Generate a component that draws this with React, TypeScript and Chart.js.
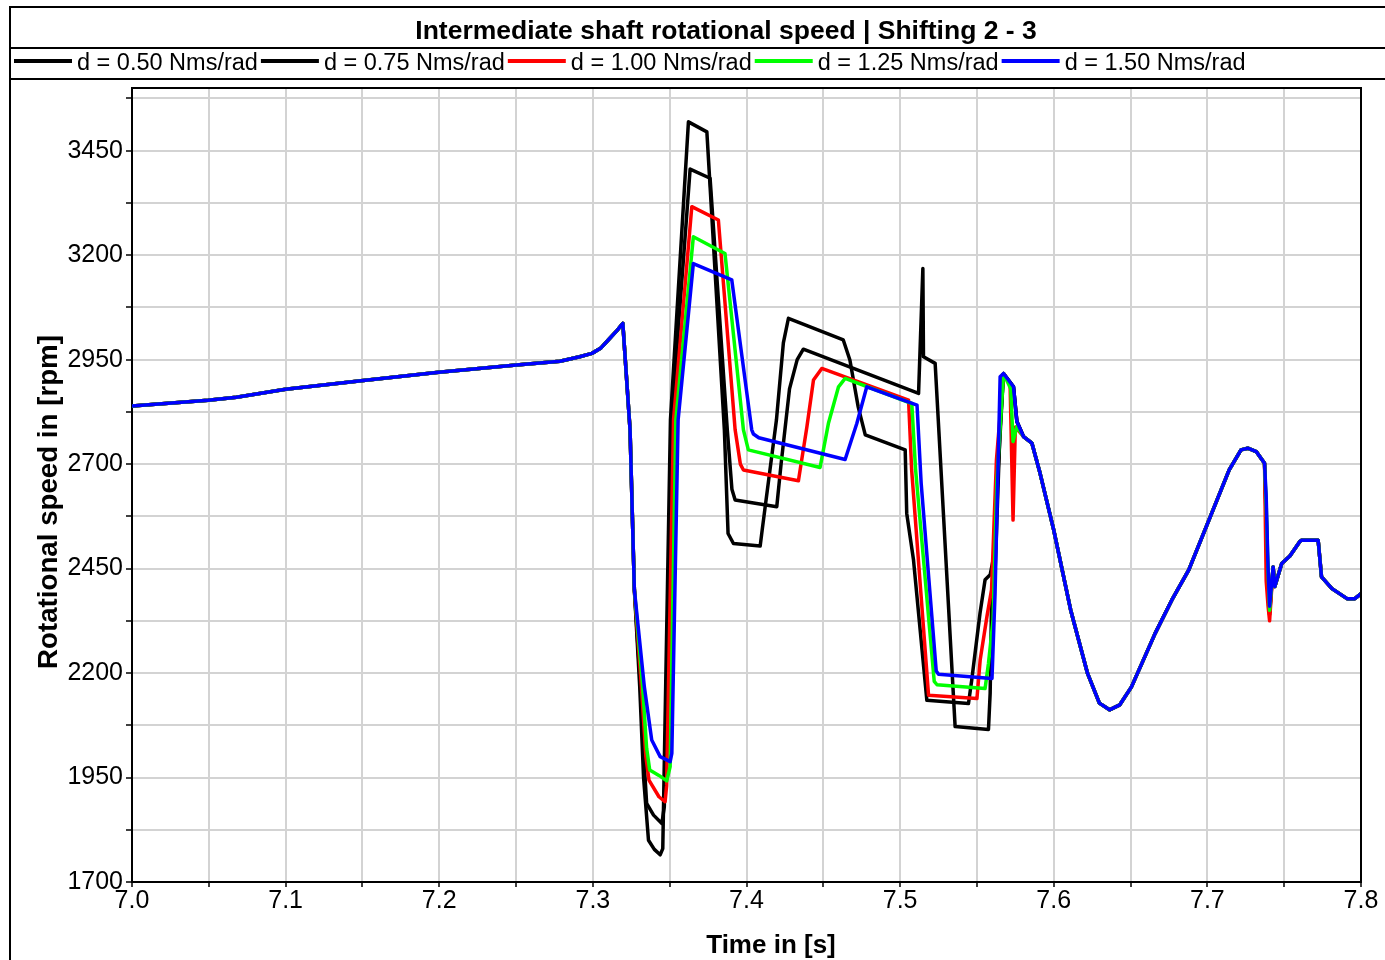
import React, { useEffect, useRef } from 'react';
import { Chart, registerables } from 'chart.js';

Chart.register(...registerables);

const TITLE = 'Intermediate shaft rotational speed | Shifting 2 - 3';
const X_TITLE = 'Time in [s]';
const Y_TITLE = 'Rotational speed in [rpm]';

const seriesLabels = ['d = 0.50 Nms/rad', 'd = 0.75 Nms/rad', 'd = 1.00 Nms/rad', 'd = 1.25 Nms/rad', 'd = 1.50 Nms/rad'];
const seriesColors = ['#000000', '#000000', '#ff0000', '#00ff00', '#0000ff'];

const xMajorTicks = [7.0, 7.1, 7.2, 7.3, 7.4, 7.5, 7.6, 7.7, 7.8];
const xMinorTicks = [7.05, 7.15, 7.25, 7.35, 7.45, 7.55, 7.65, 7.75];
const yMajorTicks = [1700, 1950, 2200, 2450, 2700, 2950, 3200, 3450];
const yMinorTicks = [1825, 2075, 2325, 2575, 2825, 3075, 3325, 3575];

// common start (all damping values identical)
const startT = [7.0, 7.0496, 7.068, 7.1, 7.1506, 7.1997, 7.2502, 7.2786, 7.2914, 7.2994, 7.305, 7.31, 7.3158, 7.3195, 7.3242, 7.327];
const startV = [2839, 2853, 2860, 2879, 2900, 2920, 2937, 2946, 2957, 2965, 2977, 2997, 3020, 3037, 2782, 2400];

// d = 0.50
const d050T = [7.3305, 7.333, 7.3362, 7.34, 7.3438, 7.3455, 7.3505, 7.3622, 7.3742, 7.3856, 7.388, 7.3915, 7.4089, 7.4102, 7.4195, 7.424, 7.4273, 7.463, 7.4673, 7.4727, 7.4773, 7.5033, 7.5043, 7.5087, 7.5174, 7.5445, 7.5466, 7.552, 7.5553, 7.5586, 7.561, 7.564];
const d050V = [2167, 1950, 1800, 1778, 1765, 1780, 2806, 3519, 3495, 2782, 2534, 2510, 2504, 2542, 2806, 2990, 3049, 2997, 2949, 2837, 2770, 2734, 2582, 2471, 2135, 2127, 2183, 2343, 2423, 2435, 2480, 2700];
// d = 0.75
const d075T = [7.331, 7.3338, 7.335, 7.3395, 7.3449, 7.3465, 7.3512, 7.3633, 7.3763, 7.3875, 7.3905, 7.3926, 7.4197, 7.4225, 7.428, 7.433, 7.437, 7.512, 7.5148, 7.5152, 7.5228, 7.5358, 7.5575, 7.5586, 7.5597, 7.5618, 7.565];
const d075V = [2167, 1960, 1888, 1860, 1840, 1880, 2806, 3406, 3384, 2782, 2640, 2614, 2598, 2700, 2880, 2950, 2975, 2869, 3168, 2957, 2941, 2072, 2065, 2151, 2407, 2440, 2780];
// d = 1.00
const d100T = [7.3316, 7.3345, 7.3365, 7.343, 7.347, 7.348, 7.3525, 7.3644, 7.3817, 7.3926, 7.396, 7.398, 7.4338, 7.4393, 7.4436, 7.449, 7.5055, 7.5075, 7.5185, 7.55, 7.5521, 7.5565, 7.5595, 7.5627];
const d100V = [2167, 2000, 1944, 1904, 1892, 1930, 2806, 3316, 3284, 2782, 2700, 2686, 2660, 2789, 2901, 2929, 2853, 2686, 2147, 2139, 2231, 2335, 2399, 2710];
// d = 1.25
const d125T = [7.3324, 7.335, 7.337, 7.343, 7.3481, 7.3503, 7.354, 7.3654, 7.386, 7.398, 7.4012, 7.4479, 7.4533, 7.4599, 7.4642, 7.5076, 7.51, 7.5222, 7.524, 7.5553, 7.5575, 7.5605, 7.563];
const d125V = [2167, 2020, 1968, 1955, 1942, 1976, 2806, 3244, 3204, 2782, 2734, 2692, 2797, 2885, 2905, 2845, 2690, 2180, 2172, 2163, 2223, 2327, 2662];
// d = 1.50
const d150T = [7.3335, 7.3383, 7.3438, 7.3503, 7.3514, 7.3555, 7.3654, 7.3904, 7.4034, 7.4045, 7.408, 7.4642, 7.4718, 7.4783, 7.511, 7.5137, 7.5235, 7.525, 7.5598, 7.5618, 7.5651];
const d150V = [2167, 2040, 2000, 1988, 2008, 2806, 3180, 3141, 2782, 2772, 2763, 2711, 2797, 2885, 2841, 2654, 2205, 2197, 2187, 2391, 2909];

// after the second peak
const postT = [7.5673, 7.5738, 7.576, 7.5803, 7.5858];
const postV = [2917, 2885, 2802, 2766, 2750];
const post100T = [7.5673, 7.5716, 7.5735, 7.575, 7.5803, 7.5858];
const post100V = [2917, 2889, 2566, 2789, 2766, 2750];
const post125T = [7.5673, 7.572, 7.5735, 7.576, 7.5803, 7.5858];
const post125V = [2917, 2880, 2754, 2790, 2766, 2750];

// common oscillation tail
const tailT = [7.5911, 7.6, 7.611, 7.622, 7.6297, 7.6363, 7.643, 7.6506, 7.666, 7.6769, 7.6879, 7.701, 7.7142, 7.7219, 7.7263, 7.7318, 7.7372];
const tailV = [2678, 2542, 2351, 2199, 2128, 2112, 2124, 2167, 2295, 2375, 2447, 2566, 2686, 2734, 2738, 2730, 2702];

// dip near 7.74 s
const spikeT = [7.7383, 7.7395, 7.7405];
const spike050V = [2560, 2400, 2340];
const spike075V = [2580, 2420, 2345];
const spike100V = [2420, 2360, 2325];
const spike125V = [2600, 2440, 2350];
const spike150V = [2620, 2450, 2360];

const endT = [7.7428, 7.7439, 7.7484, 7.7537, 7.7602, 7.7614, 7.7721, 7.7743, 7.7811, 7.7909, 7.796, 7.8];
const endV = [2454, 2407, 2462, 2480, 2515, 2518, 2518, 2430, 2402, 2378, 2378, 2390];

type Pt = { x: number; y: number };
function join(...parts: [number[], number[]][]): Pt[] {
  const pts: Pt[] = [];
  for (const [t, v] of parts) for (let i = 0; i < t.length; i++) pts.push({ x: t[i], y: v[i] });
  return pts;
}

const seriesData: Pt[][] = [
  join([startT, startV], [d050T, d050V], [postT, postV], [tailT, tailV], [spikeT, spike050V], [endT, endV]),
  join([startT, startV], [d075T, d075V], [postT, postV], [tailT, tailV], [spikeT, spike075V], [endT, endV]),
  join([startT, startV], [d100T, d100V], [post100T, post100V], [tailT, tailV], [spikeT, spike100V], [endT, endV]),
  join([startT, startV], [d125T, d125V], [post125T, post125V], [tailT, tailV], [spikeT, spike125V], [endT, endV]),
  join([startT, startV], [d150T, d150V], [postT, postV], [tailT, tailV], [spikeT, spike150V], [endT, endV]),
];

const FONT = "'Liberation Sans', Arial, Helvetica, sans-serif";

const framePlugin = {
  id: 'frame',
  beforeDraw(chart: any) {
    const ctx = chart.ctx;
    ctx.save();
    ctx.fillStyle = '#ffffff';
    ctx.fillRect(0, 0, chart.width, chart.height);
    ctx.restore();
  },
  afterDraw(chart: any) {
    const ctx: CanvasRenderingContext2D = chart.ctx;
    const a = chart.chartArea;
    const W = chart.width;
    ctx.save();
    ctx.strokeStyle = '#000';
    ctx.lineWidth = 2;
    ctx.beginPath();
    ctx.moveTo(10, chart.height);
    ctx.lineTo(10, 7);
    ctx.lineTo(W, 7);
    ctx.moveTo(10, 48);
    ctx.lineTo(W, 48);
    ctx.moveTo(10, 79);
    ctx.lineTo(W, 79);
    ctx.moveTo(a.left, a.top);
    ctx.lineTo(a.right, a.top);
    ctx.lineTo(a.right, a.bottom);
    ctx.stroke();

    ctx.fillStyle = '#000';
    ctx.textBaseline = 'alphabetic';
    // title
    ctx.font = `bold 26.5px ${FONT}`;
    ctx.textAlign = 'center';
    ctx.fillText(TITLE, 726, 39);

    // legend
    ctx.font = `23.5px ${FONT}`;
    ctx.textAlign = 'left';
    let x = 14;
    for (let i = 0; i < seriesLabels.length; i++) {
      ctx.strokeStyle = seriesColors[i];
      ctx.lineWidth = 4;
      ctx.beginPath();
      ctx.moveTo(x, 61);
      ctx.lineTo(x + 58, 61);
      ctx.stroke();
      ctx.fillText(seriesLabels[i], x + 63, 70);
      x = x + 63 + ctx.measureText(seriesLabels[i]).width + 3;
    }

    // axis titles
    ctx.font = `bold 26px ${FONT}`;
    ctx.textAlign = 'center';
    ctx.fillText(X_TITLE, 771, 953);
    ctx.save();
    ctx.translate(57, 502);
    ctx.rotate(-Math.PI / 2);
    ctx.font = `bold 27.7px ${FONT}`;
    ctx.fillText(Y_TITLE, 0, 0);
    ctx.restore();
    ctx.restore();
  },
};

export default function App() {
  const ref = useRef<HTMLCanvasElement>(null);
  useEffect(() => {
    const canvas = ref.current;
    if (!canvas) return;
    const order = [4, 3, 2, 1, 0]; // blue drawn on top
    const chart = new Chart(canvas, {
      type: 'line',
      data: {
        datasets: order.map((i) => ({
          label: seriesLabels[i],
          data: seriesData[i],
          borderColor: seriesColors[i],
          backgroundColor: seriesColors[i],
          borderWidth: 3.5,
          pointRadius: 0,
          tension: 0,
          fill: false,
          borderJoinStyle: 'round' as const,
        })),
      },
      options: {
        responsive: false,
        animation: false,
        events: [],
        layout: { padding: { left: 10, top: 88, right: 24, bottom: 0 } },
        plugins: { legend: { display: false }, title: { display: false }, tooltip: { enabled: false } },
        scales: {
          x: {
            type: 'linear',
            min: 7.0,
            max: 7.8,
            afterFit: (s: any) => { s.height = 78; },
            afterBuildTicks: (s: any) => {
              s.ticks = [...xMajorTicks, ...xMinorTicks].sort((p, q) => p - q).map((v) => ({ value: v }));
            },
            ticks: {
              autoSkip: false,
              maxRotation: 0,
              color: '#000',
              padding: -1,
              font: { family: FONT, size: 25 },
              callback: (v: any) => (xMajorTicks.some((m) => Math.abs(m - Number(v)) < 1e-6) ? Number(v).toFixed(1) : ''),
            },
            grid: { color: '#d3d3d3', lineWidth: 2, tickColor: '#000', tickLength: 5, tickWidth: 1.5 },
            border: { display: true, color: '#000', width: 2 },
          },
          y: {
            type: 'linear',
            min: 1700,
            max: 3600,
            afterFit: (s: any) => { s.width = 122; },
            afterBuildTicks: (s: any) => {
              s.ticks = [...yMajorTicks, ...yMinorTicks].sort((p, q) => p - q).map((v) => ({ value: v }));
            },
            ticks: {
              autoSkip: false,
              color: '#000',
              padding: 3,
              font: { family: FONT, size: 25 },
              callback: (v: any) => (yMajorTicks.includes(Number(v)) ? String(v) : ''),
            },
            grid: { color: '#d3d3d3', lineWidth: 2, tickColor: '#000', tickLength: 6, tickWidth: 1.5 },
            border: { display: true, color: '#000', width: 2 },
          },
        },
      },
      plugins: [framePlugin],
    });
    return () => chart.destroy();
  }, []);
  return (
    <div style={{ position: 'absolute', left: 0, top: 0, width: 1385, height: 960, background: '#fff' }}>
      <canvas ref={ref} width={1385} height={960} style={{ display: 'block', width: 1385, height: 960 }} />
    </div>
  );
}
